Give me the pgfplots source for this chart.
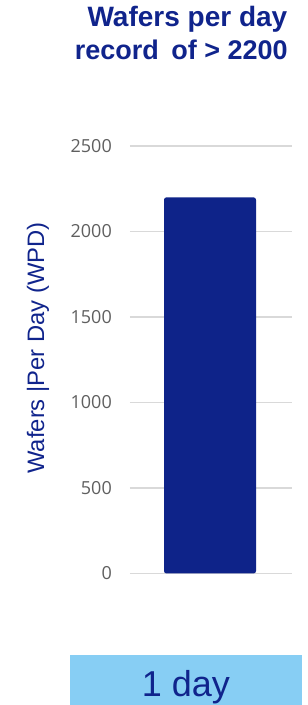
\documentclass[border=0pt]{standalone}
\usepackage{pgfplots}
\pgfplotsset{compat=1.18}
\usepackage{fontspec}
\setmainfont{Liberation Sans}
\newfontfamily\tickfont{Open Sans}
\definecolor{navy}{RGB}{16,36,140}
\definecolor{barblue}{RGB}{14,35,137}
\definecolor{boxblue}{RGB}{135,206,244}
\definecolor{gridgray}{RGB}{217,217,217}
\definecolor{tickgray}{RGB}{95,95,95}
\begin{document}
\begin{tikzpicture}[x=1pt,y=1pt]
\useasboundingbox (0,0) rectangle (308,705);
% title
\node[anchor=base east, inner sep=0pt, text=navy, font=\fontsize{28}{30}\selectfont\bfseries] at (287.5,678) {Wafers per day};
\node[anchor=base east, inner sep=0pt, text=navy, font=\fontsize{27}{30}\selectfont\bfseries] at (288,645) {record\hspace{5pt} of > 2200};
% y label
\node[rotate=90, inner sep=0pt, text=navy, font=\fontsize{23.8}{26}\selectfont] at (38,357) {Wafers |Per Day (WPD)};
% bottom box
\fill[boxblue] (70,0) rectangle (302,50);
\node[anchor=base, inner sep=0pt, text=navy, font=\fontsize{36}{40}\selectfont] at (186,8.3) {1 day};
\begin{axis}[
  at={(130pt,131.5pt)}, anchor=south west,
  width=162pt, height=427.5pt, scale only axis,
  xmin=0, xmax=162, ymin=0, ymax=2500,
  axis line style={draw=none},
  ytick={0,500,1000,1500,2000,2500},
  xtick=\empty,
  ymajorgrids,
  grid style={gridgray, line width=1.5pt},
  major tick length=0pt,
  yticklabel style={anchor=east, inner sep=0pt, xshift=-18pt, text=tickgray, font=\tickfont\fontsize{18}{20}\selectfont},
  /pgf/number format/assume math mode=true,
  /pgf/number format/1000 sep={},
  clip=false,
]
\addplot[ybar, bar width=92pt, fill=barblue, draw=none, rounded corners=2.5pt] coordinates {(80,2200)};
\end{axis}
\end{tikzpicture}
\end{document}
